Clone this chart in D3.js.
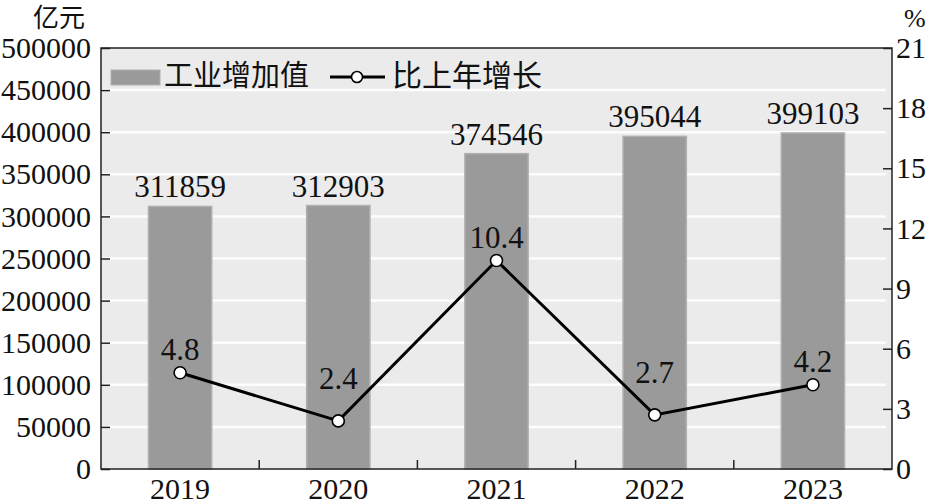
<!DOCTYPE html>
<html><head><meta charset="utf-8">
<script src="https://cdn.jsdelivr.net/npm/d3@7"></script>
<style>
html,body{margin:0;padding:0;background:#fff;}
svg text{font-family:"Liberation Serif","Times New Roman",serif;fill:#111;}
svg text.cjk{font-family:"Noto Sans CJK SC","Noto Sans",sans-serif;}
</style></head>
<body>
<svg id="chart" width="935" height="504"></svg>
<script>
const years = ["2019","2020","2021","2022","2023"];
const valueAdded = [311859, 312903, 374546, 395044, 399103];
const growth = [4.8, 2.4, 10.4, 2.7, 4.2];
const leftTicks = [0,50000,100000,150000,200000,250000,300000,350000,400000,450000,500000];
const rightTicks = [0,3,6,9,12,15,18,21];
const legendLabels = ["工业增加值","比上年增长"];
const leftUnit = "亿元", rightUnit = "%";

const svg = d3.select("#chart");
const m = {l:101, r:892, t:48, b:469};

const x = d3.scaleBand().domain(years).range([m.l, m.r]).paddingInner(0.6).paddingOuter(0.3);
const y = d3.scaleLinear().domain([0,500000]).range([m.b, m.t]);
const y2 = d3.scaleLinear().domain([0,21]).range([m.b, m.t]);

// background
svg.append("rect").attr("x",m.l).attr("y",m.t).attr("width",m.r-m.l).attr("height",m.b-m.t).attr("fill","#ebebeb");

// gridlines
svg.append("g").selectAll("line").data(leftTicks.slice(1,-1)).join("line")
  .attr("x1",m.l+1).attr("x2",m.r-6).attr("y1",d=>y(d)).attr("y2",d=>y(d))
  .attr("stroke","#fdfdfd").attr("stroke-width",2.5);

// bars
svg.append("g").selectAll("rect").data(valueAdded).join("rect")
  .attr("x",(d,i)=>x(years[i])).attr("width",x.bandwidth())
  .attr("y",d=>y(d)).attr("height",d=>m.b-y(d))
  .attr("fill","#9a9a9a").attr("stroke","#b0b0b0").attr("stroke-width",1.5);

// bar labels
svg.append("g").selectAll("text").data(valueAdded).join("text")
  .attr("x",(d,i)=>x(years[i])+x.bandwidth()/2).attr("y",d=>y(d)-9)
  .attr("text-anchor","middle").attr("font-size",31).text(d=>d);

// line
const cx = (d,i)=>x(years[i])+x.bandwidth()/2;
const pts = growth.map((d,i)=>[cx(d,i), y2(d)]);
svg.append("path").datum(growth)
  .attr("d", d3.line().x(cx).y(d=>y2(d)))
  .attr("fill","none").attr("stroke","#000").attr("stroke-width",3);
svg.append("g").selectAll("circle").data(growth).join("circle")
  .attr("cx",cx).attr("cy",d=>y2(d)).attr("r",6)
  .attr("fill","#fff").attr("stroke","#000").attr("stroke-width",1.6);

// label placement: lift each label above its point until it clears the line
function lineYAt(xx){
  for(let k=0;k<pts.length-1;k++){
    const [x0,y0]=pts[k],[x1,y1]=pts[k+1];
    if(xx>=x0 && xx<=x1) return y0+(y1-y0)*(xx-x0)/(x1-x0);
  }
  return Infinity;
}
function liftFor(i, txt){
  const [px,py]=pts[i];
  const hw = txt.length*7.5;
  let off = 13;
  for(; off<60; off++){
    const base = py-off;
    let ok = true;
    for(let xx=px-hw; xx<=px+hw; xx+=2){
      if(Math.abs(xx-px) < 8) continue;
      if(base > lineYAt(xx)-10 && base-22 < lineYAt(xx)+4) { ok=false; break; }
    }
    if(ok) break;
  }
  return off;
}
svg.append("g").selectAll("text").data(growth).join("text")
  .attr("x",cx).attr("y",(d,i)=>y2(d)-liftFor(i,d.toFixed(1)))
  .attr("text-anchor","middle").attr("font-size",31).text(d=>d.toFixed(1));

// frame
svg.append("rect").attr("x",m.l).attr("y",m.t).attr("width",m.r-m.l).attr("height",m.b-m.t)
  .attr("fill","none").attr("stroke","#222").attr("stroke-width",1.5);

// left axis
const gl = svg.append("g").attr("transform",`translate(${m.l},0)`)
  .call(d3.axisLeft(y).tickValues(leftTicks).tickSize(-9).tickPadding(10).tickFormat(d=>d));
gl.select(".domain").remove();
gl.selectAll("line").attr("stroke","#222").attr("stroke-width",1.5);
gl.selectAll("text").attr("font-size",30).attr("fill","#111");

// right axis
const gr = svg.append("g").attr("transform",`translate(${m.r},0)`)
  .call(d3.axisRight(y2).tickValues(rightTicks).tickSize(-9).tickPadding(4).tickFormat(d=>d));
gr.select(".domain").remove();
gr.selectAll("line").attr("stroke","#222").attr("stroke-width",1.5);
gr.selectAll("text").attr("font-size",30).attr("fill","#111");

// bottom axis: ticks at band boundaries
const step = x.step();
const bounds = years.slice(1).map(d=>x(d)-x.paddingInner()*step/2);
svg.append("g").selectAll("line").data(bounds).join("line")
  .attr("x1",d=>d).attr("x2",d=>d).attr("y1",m.b).attr("y2",m.b-9)
  .attr("stroke","#222").attr("stroke-width",1.5);
svg.append("g").selectAll("text").data(years).join("text")
  .attr("x",d=>x(d)+x.bandwidth()/2).attr("y",499)
  .attr("text-anchor","middle").attr("font-size",30).text(d=>d);

// units
svg.append("text").attr("class","cjk").attr("x",85).attr("y",27).attr("text-anchor","end")
  .attr("font-size",26).text(leftUnit);
svg.append("text").attr("x",904).attr("y",27).attr("text-anchor","start")
  .attr("font-size",26).text(rightUnit);

// legend
const lg = svg.append("g");
lg.append("rect").attr("x",111).attr("y",70).attr("width",49).attr("height",15)
  .attr("fill","#9a9a9a").attr("stroke","#b0b0b0").attr("stroke-width",1);
lg.append("text").attr("class","cjk").attr("x",164).attr("y",86).attr("font-size",29).text(legendLabels[0]);
lg.append("line").attr("x1",330).attr("x2",385).attr("y1",77).attr("y2",77).attr("stroke","#000").attr("stroke-width",3);
lg.append("circle").attr("cx",357).attr("cy",77).attr("r",5.5).attr("fill","#fff").attr("stroke","#000").attr("stroke-width",1.6);
lg.append("text").attr("class","cjk").attr("x",392).attr("y",86).attr("font-size",30).text(legendLabels[1]);
</script>
</body></html>
